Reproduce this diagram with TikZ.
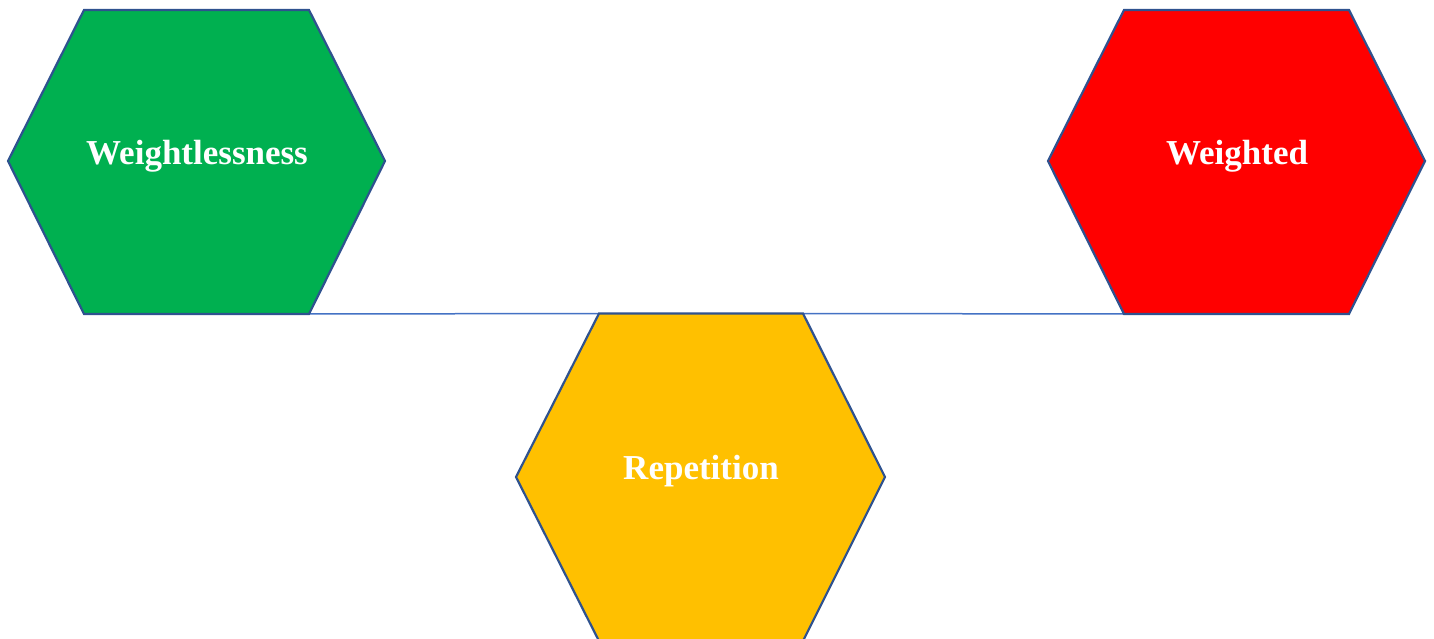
\documentclass[tikz,border=0pt]{standalone}
\usepackage{fontspec}
\setmainfont{Liberation Serif}
\begin{document}
\begin{tikzpicture}[x=1pt,y=-1pt,
  hexa/.style={draw=hexedge,line width=2.2pt,line join=miter},
  lbl/.style={text=white,font=\bfseries\fontsize{35}{40}\selectfont,inner sep=0pt},
  link/.style={draw=linkblue,line width=1.5pt}]
\definecolor{hexedge}{HTML}{2F528F}
\definecolor{linkblue}{HTML}{4472C4}
\definecolor{hgreen}{HTML}{00B050}
\definecolor{hred}{HTML}{FF0000}
\definecolor{hyellow}{HTML}{FFC000}
\useasboundingbox (0,0) rectangle (1434,639);
\clip (0,0) rectangle (1434,639);
% vertices
\coordinate (g1) at (84,10); \coordinate (g2) at (309,10); \coordinate (g3) at (385,161);
\coordinate (g4) at (309,314); \coordinate (g5) at (84,314); \coordinate (g6) at (8,161);
\coordinate (r1) at (1124,10); \coordinate (r2) at (1349,10); \coordinate (r3) at (1425,161);
\coordinate (r4) at (1349,314); \coordinate (r5) at (1124,314); \coordinate (r6) at (1048,161);
\coordinate (y1) at (599,313.5); \coordinate (y2) at (803,313.5); \coordinate (y3) at (885,477);
\coordinate (y4) at (803,641); \coordinate (y5) at (599,641); \coordinate (y6) at (516,477);
\draw[link] (g4) -- (y1);
\draw[link] (y2) -- (r5);
\path[hexa,fill=hgreen] (g1) -- (g2) -- (g3) -- (g4) -- (g5) -- (g6) -- cycle;
\path[hexa,fill=hred] (r1) -- (r2) -- (r3) -- (r4) -- (r5) -- (r6) -- cycle;
\path[hexa,fill=hyellow] (y1) -- (y2) -- (y3) -- (y4) -- (y5) -- (y6) -- cycle;
\node[lbl] (tw) at (197,156) {Weightlessness};
\node[lbl] (tr) at (1237,156) {Weighted};
\node[lbl] (ty) at (701,471) {Repetition};
\end{tikzpicture}
\end{document}
